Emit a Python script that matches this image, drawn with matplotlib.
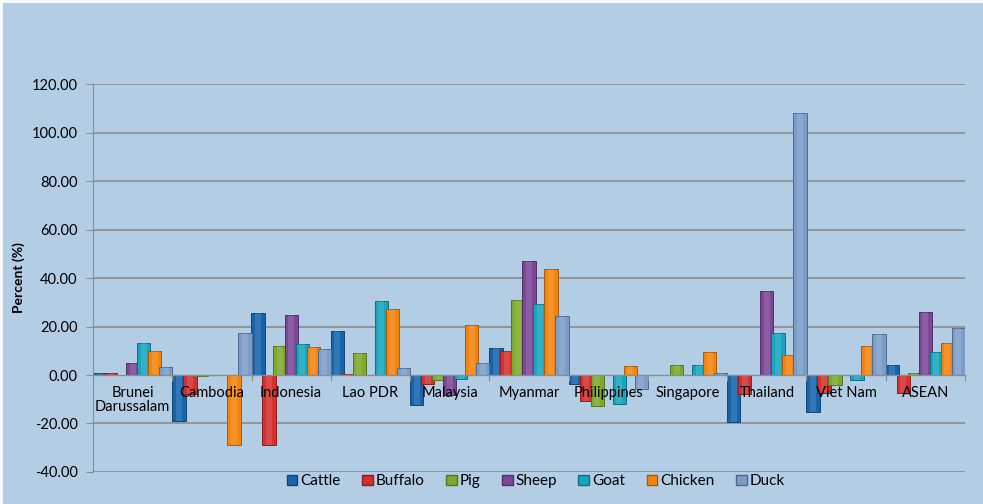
import matplotlib.pyplot as plt
import numpy as np
from matplotlib.patches import Patch

plt.rcParams['font.family'] = ['Lato', 'DejaVu Sans']

countries = ['Brunei\nDarussalam', 'Cambodia', 'Indonesia', 'Lao PDR', 'Malaysia',
             'Myanmar', 'Philippines', 'Singapore', 'Thailand', 'Viet Nam', 'ASEAN']

cattle  = [0.9, -18.9, 25.4, 18.1, -12.4, 11.3, -3.9, 0.0, -19.3, -15.1, 4.3]
buffalo = [0.9, -8.0, -28.9, 0.6, -3.7, 9.9, -10.8, 0.0, -8.0, -7.3, -7.3]
pig     = [0.0, -0.6, 12.1, 9.2, -2.0, 31.1, -12.8, 4.3, 0.0, -4.3, 1.0]
sheep   = [5.1, 0.0, 24.9, 0.0, -8.2, 47.2, 0.0, 0.0, 34.6, 0.0, 25.8]
goat    = [13.1, 0.0, 12.9, 30.5, -1.8, 29.1, -12.1, 4.0, 17.3, -2.2, 9.6]
chicken = [10.0, -28.9, 11.7, 27.2, 20.6, 43.8, 3.6, 9.4, 8.1, 11.9, 13.1]
duck    = [3.4, 17.2, 10.8, 3.0, 5.1, 24.5, -5.6, 0.8, 108.0, 16.8, 19.3]

series = ['Cattle', 'Buffalo', 'Pig', 'Sheep', 'Goat', 'Chicken', 'Duck']
values = [cattle, buffalo, pig, sheep, goat, chicken, duck]
colors = ['#1764AB', '#D3302E', '#7DAA2C', '#7B4796', '#17A6BE', '#F3850F', '#7C9DC9']
edges  = ['#0E4677', '#8E1E1C', '#55761C', '#523063', '#0F6F80', '#A85A08', '#52698A']

bg = '#B3CDE4'
fig = plt.figure(figsize=(9.83, 5.04), dpi=100, facecolor=bg)
ax = fig.add_axes([0.0946, 0.0635, 0.8871, 0.7698])
ax.set_facecolor(bg)

x = np.arange(len(countries))
step = 0.139
width = 0.168

# gridlines under the bars, axis labels drawn over them (as in the Excel chart)
for g in np.arange(-40, 121, 20):
    if g != 0:
        ax.axhline(g, color='#8C8C8C', linewidth=1.2, zorder=1)

for j, (name, vals) in enumerate(zip(series, values)):
    pos = x + (j - 3) * step
    ax.bar(pos, vals, width=width, color=colors[j], edgecolor=edges[j],
           linewidth=0.7, label=name, zorder=2)
    # light centre strip for the bevel look
    ax.bar(pos, vals, width=width * 0.45, color='white', alpha=0.12,
           linewidth=0, zorder=2.1)

ax.set_axisbelow(False)
ax.set_xlim(-0.5, len(countries) - 0.5)
ax.set_ylim(-40, 120)
ax.set_yticks(np.arange(-40, 121, 20))
ax.set_yticklabels([f'{v:.2f}' for v in np.arange(-40, 121, 20)], fontsize=10.5)

for s in ['top', 'right']:
    ax.spines[s].set_visible(False)
ax.spines['left'].set_color('#8C8C8C')
ax.spines['bottom'].set_position(('data', 0))
ax.spines['bottom'].set_color('#8C8C8C')
ax.spines['bottom'].set_linewidth(1.0)
ax.tick_params(axis='y', length=5, color='#8C8C8C', pad=6)

ax.set_xticks(np.arange(len(countries) + 1) - 0.5)
ax.set_xticklabels([])
ax.set_xticks(x, minor=True)
ax.set_xticklabels(countries, minor=True, fontsize=10.5, linespacing=0.95)
ax.tick_params(axis='x', which='major', length=4, color='#8C8C8C')
ax.tick_params(axis='x', which='minor', length=0, pad=8)

ax.set_ylabel('Percent (%)', fontsize=10, fontweight='bold', labelpad=5)

handles = [Patch(facecolor=c, edgecolor=e, label=n) for n, c, e in zip(series, colors, edges)]
fig.legend(handles=handles, loc='center', bbox_to_anchor=(0.545, 0.045), ncol=7,
           frameon=False, fontsize=11, handlelength=0.7, handleheight=0.7,
           handletextpad=0.2, columnspacing=1.4)

# thin white frame on the left and top edge of the chart area
fig.add_artist(plt.Line2D([0.001, 0.001], [0, 1], color='white', linewidth=2,
                          transform=fig.transFigure))
fig.add_artist(plt.Line2D([0, 1], [0.998, 0.998], color='white', linewidth=2,
                          transform=fig.transFigure))

fig.savefig('out.png', dpi=100, facecolor=bg)
